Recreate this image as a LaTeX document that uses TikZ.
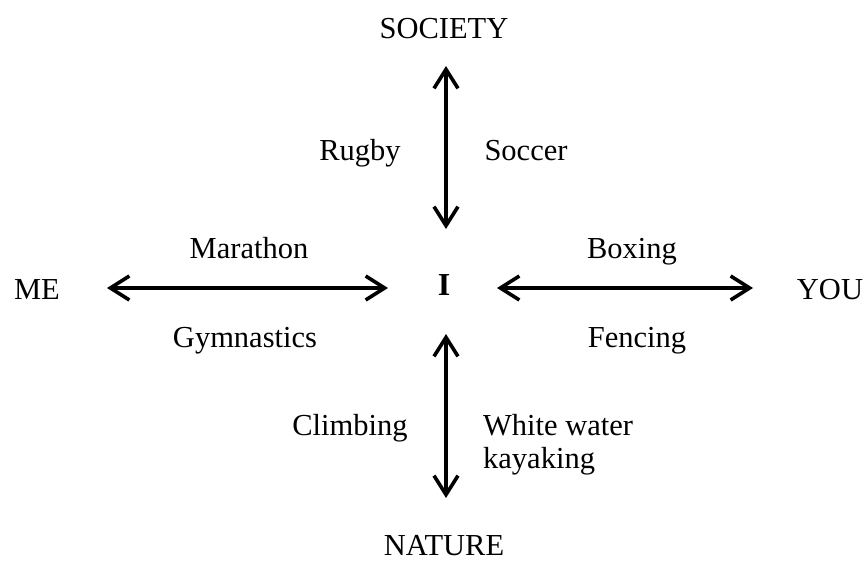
\documentclass[tikz,border=0pt]{standalone}
\usepackage{fontspec}
\setmainfont{Liberation Serif}
\usetikzlibrary{arrows.meta}
\begin{document}
\begin{tikzpicture}[x=1pt,y=-1pt,
  lbl/.style={inner sep=0pt,anchor=base,font=\fontsize{30.5}{33}\selectfont},
  dbl/.style={line width=3.6pt,{Straight Barb[length=19pt,width=24pt]}-{Straight Barb[length=19pt,width=24pt]}}]
\useasboundingbox (0,0) rectangle (867,561);
\node[lbl] (soc) at (444,39) {SOCIETY};
\node[lbl] (nat) at (444,555) {NATURE};
\node[lbl] (me) at (37,299) {ME};
\node[lbl] (you) at (830,299) {YOU};
\node[lbl,font=\fontsize{32}{38}\selectfont\bfseries] (i) at (444,295) {I};
\node[lbl] (rugby) at (360,161) {Rugby};
\node[lbl] (soccer) at (526,161) {Soccer};
\node[lbl] (mar) at (249,259) {Marathon};
\node[lbl] (gym) at (245,347) {Gymnastics};
\node[lbl] (box) at (632,259) {Boxing};
\node[lbl] (fen) at (637,347) {Fencing};
\node[lbl] (climb) at (350,435) {Climbing};
\node[lbl,anchor=base west,align=left] (ww) at (483,468) {White water\\kayaking};
\coordinate (t1) at (446,66);
\coordinate (t2) at (446,229);
\coordinate (b1) at (446,334);
\coordinate (b2) at (446,498);
\coordinate (l1) at (107,288);
\coordinate (l2) at (388,288);
\coordinate (r1) at (497,288);
\coordinate (r2) at (753,288);
\draw[dbl] (t1) -- (t2);
\draw[dbl] (b1) -- (b2);
\draw[dbl] (l1) -- (l2);
\draw[dbl] (r1) -- (r2);
\end{tikzpicture}
\end{document}
